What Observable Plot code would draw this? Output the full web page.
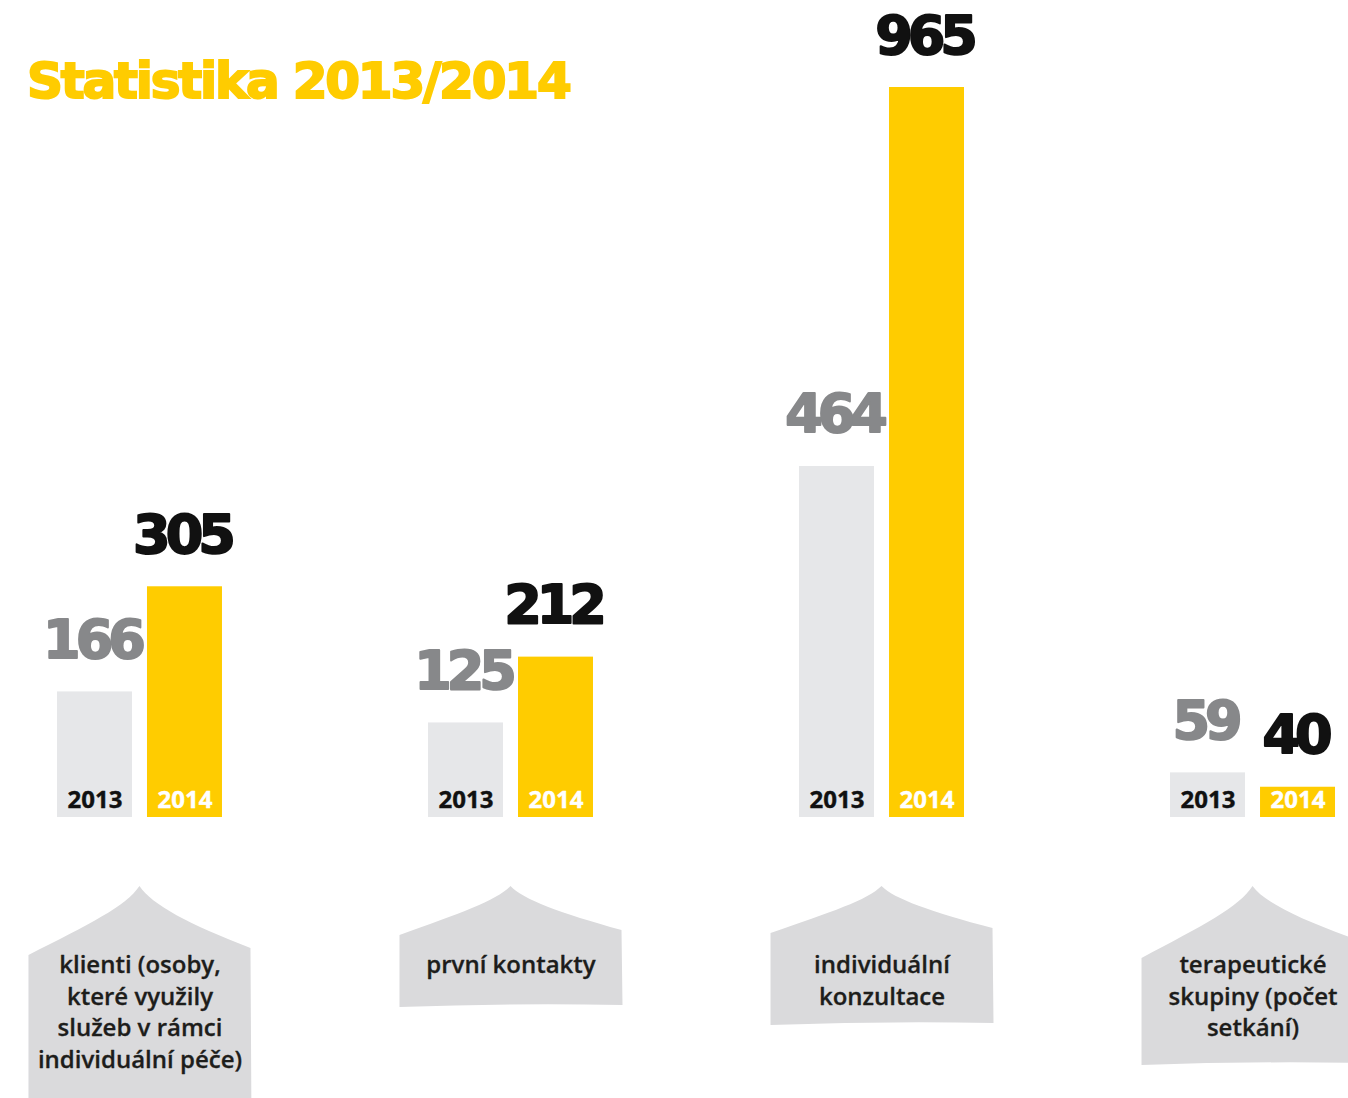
<!DOCTYPE html>
<html><head><meta charset="utf-8">
<script src="https://cdn.jsdelivr.net/npm/d3@7"></script>
<script src="https://cdn.jsdelivr.net/npm/@observablehq/plot@0.6"></script>
<style>
body{margin:0;background:#fff;}
#wrap{position:relative;width:1348px;height:1098px;overflow:hidden;}
#title{position:absolute;left:27px;top:52px;font-family:"DejaVu Sans",sans-serif;font-weight:bold;font-size:50px;color:#ffcc00;-webkit-text-stroke:2px #ffcc00;letter-spacing:-2.2px;white-space:nowrap;}
</style></head><body>
<div id="wrap"><div id="chart"></div><div id="title">Statistika 2013/2014</div></div>
<script>
// ---- data ----
const categories = [
  "klienti (osoby,\nkteré využily\nslužeb v rámci\nindividuální péče)",
  "první kontakty",
  "individuální\nkonzultace",
  "terapeutické\nskupiny (počet\nsetkání)"
];
const values2013 = [166, 125, 464, 59];
const values2014 = [305, 212, 965, 40];
const yearLabels = ["2013", "2014"];

// ---- styles ----
const colors = {y2013: "#e6e7e9", y2014: "#ffcc00", val2013: "#87888a", val2014: "#111111", house: "#dadadc", text: "#1d1d1b"};
// house-shaped label backgrounds: shoulder drops and bottom, relative to the peak
const houseStyle = [
  {hl: 69, hr: 62, hb: 240},
  {hl: 49, hr: 44, hb: 121},
  {hl: 47, hr: 42, hb: 139},
  {hl: 72, hr: 56, hb: 179}
];

const rows2013 = categories.map((c, i) => ({category: c, value: values2013[i]}));
const rows2014 = categories.map((c, i) => ({category: c, value: values2014[i]}));

const humanist = "'Open Sans', 'Noto Sans', sans-serif";
const heavy = "'DejaVu Sans', sans-serif";

const houses = (index, scales, values, dimensions) => {
  const x = scales.x;
  const bw = x.bandwidth ? x.bandwidth() : 165;
  const base = dimensions.height - dimensions.marginBottom;
  const g = d3.create("svg:g");
  categories.forEach((c, i) => {
    const s = houseStyle[i];
    const cx = x(c) + bw / 2;
    const top = base + 69;
    const hw = 111;
    const yl = top + s.hl, yr = top + s.hr, yb = top + s.hb;
    const p = d3.path();
    p.moveTo(cx - hw, yl);
    p.bezierCurveTo(cx - 50, top + s.hl * 0.55, cx - 14, top + s.hl * 0.3, cx, top);
    p.bezierCurveTo(cx + 12, top + s.hr * 0.3, cx + 50, top + s.hr * 0.62, cx + hw, yr);
    p.lineTo(cx + hw + 1, yb - 2);
    p.quadraticCurveTo(cx, yb - 4, cx - hw, yb);
    p.closePath();
    g.append("path").attr("d", p.toString()).attr("fill", colors.house);
  });
  return g.node();
};

const valueOpts = {x: "category", y: "value", text: d => String(d.value), dy: -34, lineAnchor: "bottom",
  fontSize: 54, fontWeight: "bold", fontFamily: heavy};

const chart = Plot.plot({
  width: 1348,
  height: 1098,
  marginTop: 87,
  marginBottom: 281,
  marginLeft: 44,
  marginRight: 0,
  x: {domain: categories, paddingInner: 0.5553, paddingOuter: 0.035, round: false, axis: null},
  y: {domain: [0, 965], axis: null},
  marks: [
    houses,
    Plot.barY(rows2013, {x: "category", y: "value", fill: colors.y2013, insetRight: 90}),
    Plot.barY(rows2014, {x: "category", y: "value", fill: colors.y2014, insetLeft: 90}),
    Plot.text(rows2013, {...valueOpts, dx: -48, fill: "white", stroke: "white", strokeWidth: 7}),
    Plot.text(rows2013, {...valueOpts, dx: -48, fill: colors.val2013, stroke: colors.val2013, strokeWidth: 2}),
    Plot.text(rows2014, {...valueOpts, dx: 42, fill: colors.val2014, stroke: colors.val2014, strokeWidth: 2}),
    Plot.text(rows2013, {x: "category", text: () => yearLabels[0], frameAnchor: "bottom", dx: -45, dy: -10, lineAnchor: "bottom",
      fill: "#111", stroke: "#111", strokeWidth: 0.4, fontSize: 24, fontWeight: "bold", fontFamily: humanist}),
    Plot.text(rows2014, {x: "category", text: () => yearLabels[1], frameAnchor: "bottom", dx: 45, dy: -10, lineAnchor: "bottom",
      fill: "white", stroke: "white", strokeWidth: 0.4, fontSize: 24, fontWeight: "bold", fontFamily: humanist}),
    Plot.text(categories, {x: d => d, text: d => d, frameAnchor: "bottom", dy: 133, lineAnchor: "top", lineHeight: 1.32,
      fill: colors.text, stroke: colors.text, strokeWidth: 0.3, fontSize: 24, fontWeight: 600, fontFamily: humanist})
  ]
});
const tg = chart.querySelectorAll('g[aria-label="text"]');
for (let k = 0; k < 3; k++) if (tg[k]) tg[k].style.letterSpacing = "-5px";
document.getElementById("chart").appendChild(chart);
</script>
</body></html>
